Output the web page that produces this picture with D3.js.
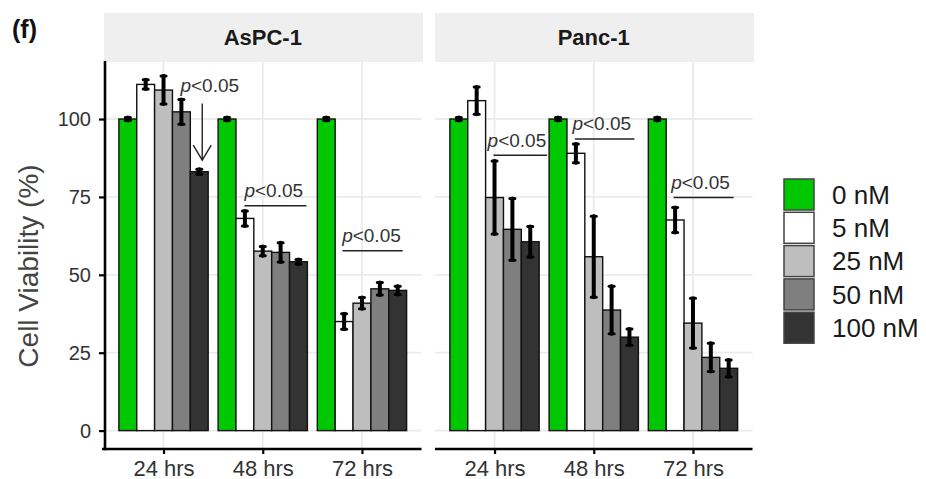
<!DOCTYPE html>
<html>
<head>
<meta charset="utf-8">
<script src="https://cdn.jsdelivr.net/npm/d3@7"></script>
<style>
  html, body { margin: 0; padding: 0; background: #fff; }
  svg { display: block; font-family: "Liberation Sans", Arial, sans-serif; }
</style>
</head>
<body>
<svg id="chart" width="926" height="479"></svg>
<script>
// Facets, time points and treatment doses
const cellLines = ["AsPC-1", "Panc-1"];
const times = ["24 hrs", "48 hrs", "72 hrs"];
const doses = ["0 nM", "5 nM", "25 nM", "50 nM", "100 nM"];
const doseColors = ["#00c800", "#ffffff", "#bebebe", "#7f7f7f", "#333333"];

// Mean viability (%) per time point, one value per dose
const aspc1Mean = [
  [100, 111.1, 109.3, 102.3, 83.1],
  [100, 68.1, 57.6, 57.2, 54.2],
  [100, 35.0, 40.9, 45.5, 45.0]
];
const aspc1Sd = [
  [0.5, 1.5, 4.5, 4.0, 0.8],
  [0.5, 2.4, 1.5, 3.1, 0.7],
  [0.5, 2.5, 1.8, 2.0, 1.3]
];
const panc1Mean = [
  [100, 105.9, 74.8, 64.6, 60.6],
  [100, 89.0, 55.8, 38.7, 30.0],
  [100, 67.6, 34.5, 23.5, 20.0]
];
const panc1Sd = [
  [0.5, 4.4, 11.7, 9.9, 4.9],
  [0.5, 3.0, 13.0, 7.6, 2.6],
  [0.5, 4.0, 8.0, 4.5, 2.7]
];

const yTicks = [0, 25, 50, 75, 100];

// Significance annotations: bracket line (offsets in category units) and label
const sigNotes = [
  { cell: "AsPC-1", time: "24 hrs", kind: "arrow", textX: 0.17, textY: 108.8, arrowX: 0.39, arrowTop: 105, arrowBottom: 86.8 },
  { cell: "AsPC-1", time: "48 hrs", kind: "line", textX: -0.185, x0: -0.185, x1: 0.44, y: 72.2 },
  { cell: "AsPC-1", time: "72 hrs", kind: "line", textX: -0.2, x0: -0.196, x1: 0.41, y: 57.7 },
  { cell: "Panc-1", time: "24 hrs", kind: "line", textX: -0.07, x0: -0.01, x1: 0.53, y: 88.4 },
  { cell: "Panc-1", time: "48 hrs", kind: "line", textX: -0.215, x0: -0.19, x1: 0.41, y: 93.6 },
  { cell: "Panc-1", time: "72 hrs", kind: "line", textX: -0.22, x0: -0.195, x1: 0.41, y: 74.8 }
];

const svg = d3.select("#chart");

const panelTop = 62, panelBottom = 449;
const panels = [
  { name: "AsPC-1", x0: 104, x1: 421.5, mean: aspc1Mean, sd: aspc1Sd },
  { name: "Panc-1", x0: 435, x1: 752.5, mean: panc1Mean, sd: panc1Sd }
];

const y = d3.scaleLinear().domain([-5.9, 118.3]).range([panelBottom, panelTop]);
const color = d3.scaleOrdinal().domain(doses).range(doseColors);

panels.forEach((p, pi) => {
  const x = d3.scalePoint().domain(times).range([p.x0, p.x1]).padding(0.6);
  const step = x.step();
  const xd = d3.scaleBand().domain(doses).range([-0.45 * step, 0.45 * step]).padding(0);

  const g = svg.append("g");

  // strip
  g.append("rect").attr("x", p.x0).attr("y", 13).attr("width", p.x1 - p.x0 + 1.5).attr("height", panelTop - 13)
    .attr("fill", "#efefef");
  g.append("text").attr("x", (p.x0 + p.x1) / 2).attr("y", 45).attr("text-anchor", "middle")
    .attr("font-size", 22).attr("font-weight", "bold").attr("fill", "#1a1a1a").text(p.name);

  // grid
  g.selectAll(".hgrid").data(yTicks).join("line")
    .attr("x1", p.x0).attr("x2", p.x1).attr("y1", d => y(d)).attr("y2", d => y(d))
    .attr("stroke", "#ebebeb").attr("stroke-width", 1.8);
  g.selectAll(".vgrid").data(times).join("line")
    .attr("x1", d => x(d)).attr("x2", d => x(d)).attr("y1", panelTop).attr("y2", panelBottom)
    .attr("stroke", "#ebebeb").attr("stroke-width", 1.8);

  // bars
  times.forEach((t, ti) => {
    const gx = x(t);
    const rows = doses.map((d, di) => ({ dose: d, mean: p.mean[ti][di], sd: p.sd[ti][di] }));
    g.selectAll(null).data(rows).join("rect")
      .attr("x", d => gx + xd(d.dose))
      .attr("y", d => y(d.mean))
      .attr("width", xd.bandwidth())
      .attr("height", d => y(0) - y(d.mean))
      .attr("fill", d => color(d.dose))
      .attr("stroke", "#111").attr("stroke-width", 1.4);

    // error bars
    const eb = g.selectAll(null).data(rows).join("g")
      .attr("transform", d => `translate(${gx + xd(d.dose) + xd.bandwidth() / 2},0)`);
    eb.append("line").attr("x1", 0).attr("x2", 0)
      .attr("y1", d => y(d.mean + d.sd)).attr("y2", d => y(d.mean - d.sd))
      .attr("stroke", "#000").attr("stroke-width", 4).attr("stroke-linecap", "round");
    eb.append("line").attr("x1", -2.5).attr("x2", 2.5)
      .attr("y1", d => y(d.mean + d.sd)).attr("y2", d => y(d.mean + d.sd))
      .attr("stroke", "#000").attr("stroke-width", 3).attr("stroke-linecap", "round");
    eb.append("line").attr("x1", -2.5).attr("x2", 2.5)
      .attr("y1", d => y(d.mean - d.sd)).attr("y2", d => y(d.mean - d.sd))
      .attr("stroke", "#000").attr("stroke-width", 3).attr("stroke-linecap", "round");
  });

  // significance notes
  sigNotes.filter(n => n.cell === p.name).forEach(n => {
    const gx = x(n.time);
    const label = g.append("text").attr("font-size", 19).attr("fill", "#333");
    if (n.kind === "line") {
      g.append("line").attr("x1", gx + n.x0 * step).attr("x2", gx + n.x1 * step)
        .attr("y1", y(n.y)).attr("y2", y(n.y)).attr("stroke", "#222").attr("stroke-width", 1.5);
      label.attr("x", gx + n.textX * step).attr("y", y(n.y) - 8.5);
    } else {
      const ax = gx + n.arrowX * step;
      g.append("line").attr("x1", ax).attr("x2", ax).attr("y1", y(n.arrowTop)).attr("y2", y(n.arrowBottom))
        .attr("stroke", "#222").attr("stroke-width", 1.4);
      g.append("path")
        .attr("d", `M${ax - 9},${y(n.arrowBottom) - 15}L${ax},${y(n.arrowBottom)}L${ax + 9},${y(n.arrowBottom) - 15}`)
        .attr("fill", "none").attr("stroke", "#222").attr("stroke-width", 1.4);
      label.attr("x", gx + n.textX * step).attr("y", y(n.textY));
    }
    label.append("tspan").attr("font-style", "italic").text("p");
    label.append("tspan").text("<0.05");
  });

  // x axis
  const xAxis = d3.axisBottom(x).tickSize(5).tickPadding(4);
  const ax = g.append("g").attr("transform", `translate(0,${panelBottom})`).call(xAxis);
  ax.select(".domain").remove();
  ax.append("line").attr("x1", p.x0 - (pi === 0 ? 2 : 0)).attr("x2", p.x1).attr("y1", 0).attr("y2", 0)
    .attr("stroke", "#000").attr("stroke-width", 2.6);
  ax.selectAll(".tick line").attr("stroke", "#000").attr("stroke-width", 2.2);
  ax.selectAll(".tick text").attr("font-size", 22).attr("fill", "#333").attr("y", 26.5).attr("dy", null)
    .style("font-family", "'Liberation Sans', Arial, sans-serif");

  // y axis on first panel only
  if (pi === 0) {
    const yAxis = d3.axisLeft(y).tickValues(yTicks).tickSize(6).tickPadding(8);
    const ay = g.append("g").attr("transform", `translate(${p.x0 + 1},0)`).call(yAxis);
    ay.select(".domain").remove();
    ay.append("line").attr("x1", 0).attr("x2", 0).attr("y1", panelTop - 1).attr("y2", panelBottom + 1.3)
      .attr("stroke", "#000").attr("stroke-width", 2.6);
    ay.selectAll(".tick line").attr("stroke", "#000").attr("stroke-width", 2.2);
    ay.selectAll(".tick text").attr("font-size", 20).attr("fill", "#333")
      .style("font-family", "'Liberation Sans', Arial, sans-serif");
  }
});

// y axis title
svg.append("text").attr("transform", "translate(38,266) rotate(-90)").attr("text-anchor", "middle")
  .attr("font-size", 28).attr("fill", "#444").text("Cell Viability (%)");

// panel tag
svg.append("text").attr("x", 12).attr("y", 38).attr("font-size", 25).attr("font-weight", "bold")
  .attr("fill", "#111").text("(f)");

// legend
const legend = svg.append("g").attr("transform", "translate(784,179)");
const keyStep = 33.3;
const items = legend.selectAll("g").data(doses).join("g")
  .attr("transform", (d, i) => `translate(0,${i * keyStep})`);
items.append("rect").attr("x", 0).attr("y", 0).attr("width", 30).attr("height", 31)
  .attr("fill", d => color(d)).attr("stroke", "#444").attr("stroke-width", 1.5);
items.append("text").attr("x", 48).attr("y", 15.5).attr("dy", "0.36em")
  .attr("font-size", 26).attr("fill", "#1a1a1a").text(d => d);
</script>
</body>
</html>
